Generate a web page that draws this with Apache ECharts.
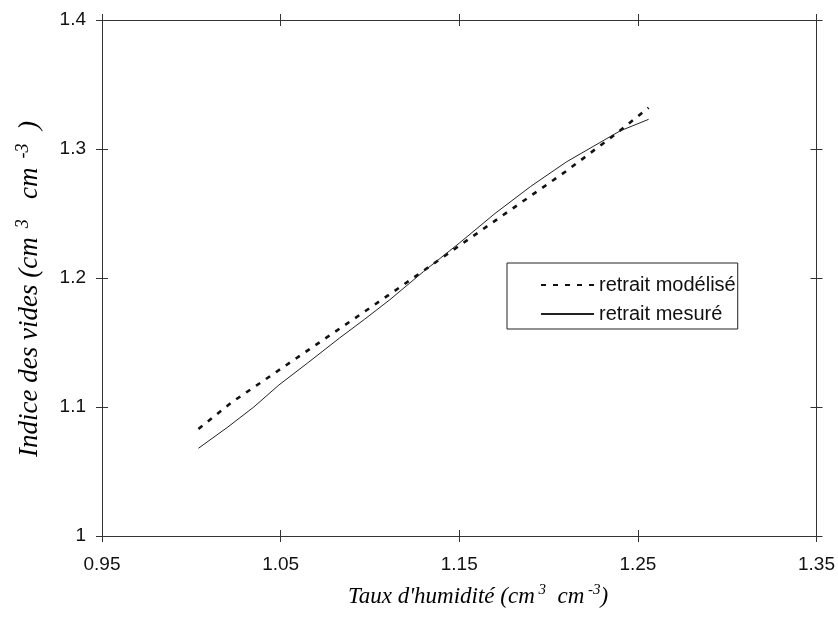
<!DOCTYPE html>
<html><head><meta charset="utf-8">
<script src="https://cdn.jsdelivr.net/npm/echarts@6/dist/echarts.min.js"></script>
<style>html,body{margin:0;padding:0;background:#fff}#c{width:838px;height:628px}</style>
</head><body><div id="c"></div>
<script>
const xTicks = [0.95, 1.05, 1.15, 1.25, 1.35];
const yTicks = [1, 1.1, 1.2, 1.3, 1.4];
const modelX = [1.004, 1.023, 1.040, 1.059, 1.078, 1.096, 1.118, 1.149, 1.180, 1.210, 1.237, 1.256];
const modelY = [1.083, 1.104, 1.120, 1.138, 1.156, 1.173, 1.194, 1.224, 1.254, 1.283, 1.311, 1.332];
const measX = [1.004, 1.020, 1.035, 1.049, 1.065, 1.083, 1.097, 1.111, 1.130, 1.150, 1.170, 1.190, 1.210, 1.225, 1.240, 1.256];
const measY = [1.068, 1.084, 1.100, 1.117, 1.134, 1.1535, 1.168, 1.183, 1.205, 1.227, 1.250, 1.271, 1.290, 1.302, 1.314, 1.323];
const names = ['retrait modélisé', 'retrait mesuré'];

const axCol = '#333';
const sans = 'Liberation Sans, Arial, sans-serif';
function xa(pos, inside, showLine, showLabel) {
  return {
    type: 'value', position: pos, min: 0.95, max: 1.35,
    axisLine: {show: showLine, lineStyle: {color: axCol, width: 1}},
    axisTick: {show: true, inside: inside, length: 6, customValues: xTicks, lineStyle: {color: axCol}},
    axisLabel: {show: showLabel, customValues: xTicks, formatter: v => v.toFixed(2), color: '#111',
      fontFamily: sans, fontSize: 19, margin: 19},
    splitLine: {show: false}
  };
}
function ya(pos, inside, showLine, showLabel) {
  return {
    type: 'value', position: pos, min: 1, max: 1.4, interval: 0.1,
    axisLine: {show: showLine, lineStyle: {color: axCol, width: 1}},
    axisTick: {show: true, inside: inside, length: 6, customValues: yTicks, lineStyle: {color: axCol}},
    axisLabel: {show: showLabel, customValues: yTicks, color: '#111', fontFamily: sans, fontSize: 19, margin: 16},
    splitLine: {show: false}
  };
}
const chart = echarts.init(document.getElementById('c'), null, {renderer: 'canvas'});
const serif = 'Liberation Serif, Times New Roman, serif';
const richX = {
  t: {fontFamily: serif, fontStyle: 'italic', fontSize: 23, lineHeight: 27, color: '#111'},
  s: {fontFamily: serif, fontStyle: 'italic', fontSize: 15, lineHeight: 15, verticalAlign: 'top', color: '#111'}
};
const richY = {
  t: {fontFamily: serif, fontStyle: 'italic', fontSize: 27, lineHeight: 31, color: '#111'},
  s: {fontFamily: serif, fontStyle: 'italic', fontSize: 18, lineHeight: 18, verticalAlign: 'top', color: '#111'}
};
chart.setOption({
  animation: false,
  backgroundColor: '#fff',
  grid: {left: 102, top: 20, right: 20, bottom: 92, containLabel: false},
  xAxis: [xa('bottom', true, true, true), xa('bottom', false, false, false), xa('top', true, true, false), xa('top', false, false, false)],
  yAxis: [ya('left', true, true, true), ya('left', false, false, false), ya('right', true, true, false), ya('right', false, false, false)],
  legend: {
    orient: 'vertical', left: 507, top: 263, itemWidth: 53, itemHeight: 14, itemGap: 9, itemStyle: {opacity: 0},
    padding: [12, 2, 5, 33], borderColor: '#222', borderWidth: 1, backgroundColor: '#fff',
    textStyle: {fontFamily: sans, fontSize: 20, color: '#111'},
    data: names
  },
  series: [
    {name: names[0], type: 'line', symbol: 'none', xAxisIndex: 0, yAxisIndex: 0,
     lineStyle: {color: '#111', width: 2.6, type: [5, 7]},
     data: modelX.map((x, i) => [x, modelY[i]])},
    {name: names[1], type: 'line', symbol: 'none', xAxisIndex: 0, yAxisIndex: 0,
     lineStyle: {color: '#222', width: 1},
     data: measX.map((x, i) => [x, measY[i]])}
  ],
  graphic: [
    {type: 'text', left: 348, top: 583, style: {text: "{t|Taux d'humidité (cm}{s| 3}{t|  cm}{s| -3}{t|)}", rich: richX}},
    {type: 'text', x: 14, y: 457, rotation: Math.PI / 2, originX: 0, originY: 0,
     style: {text: "{t|Indice des vides (cm}{s|  3}{t|   cm}{s|  -3}{t|  )}", rich: richY}}
  ]
});
</script></body></html>
